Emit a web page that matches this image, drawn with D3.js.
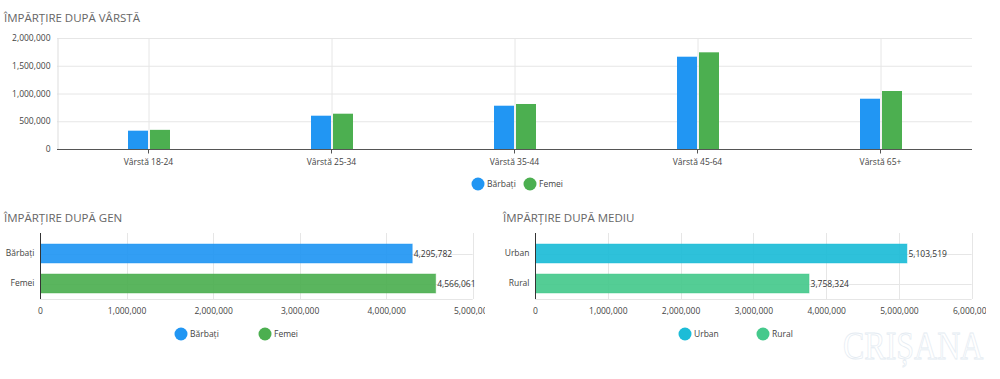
<!DOCTYPE html>
<html><head><meta charset="utf-8">
<script src="https://cdn.jsdelivr.net/npm/d3@7"></script>
<style>
html,body{margin:0;padding:0;background:#fff;}
svg{display:block;font-family:"Open Sans","DejaVu Sans",sans-serif;}
</style></head>
<body>
<svg id="chart" width="1000" height="379"></svg>
<script>
// ---- DATA ----
const ageCategories = ["Vârstă 18-24","Vârstă 25-34","Vârstă 35-44","Vârstă 45-64","Vârstă 65+"];
const ageMen   = [330000, 600000, 780000, 1663000, 906000];
const ageWomen = [345000, 636000, 811000, 1742000, 1045000];
const ageTicks = [0, 500000, 1000000, 1500000, 2000000];
const seriesNames = ["Bărbați","Femei"];

const genderCategories = ["Bărbați","Femei"];
const genderValues = [4295782, 4566061];
const genderTicks = [0,1000000,2000000,3000000,4000000,5000000];

const envCategories = ["Urban","Rural"];
const envValues = [5103519, 3758324];
const envTicks = [0,1000000,2000000,3000000,4000000,5000000,6000000];

const titles = ["ÎMPĂRȚIRE DUPĂ VÂRSTĂ","ÎMPĂRȚIRE DUPĂ GEN","ÎMPĂRȚIRE DUPĂ MEDIU"];

// ---- STYLE ----
const cBlue="#2196F3", cGreen="#4CAF50", cCyan="#1CBCD7", cMint="#45C98C";
const fmt = d3.format(",");
const svg = d3.select("#chart");
const textCol="#444", gridCol="#e6e6e6";

// ===== Top chart: age =====
{
  const x = d3.scaleBand().domain(ageCategories).range([57,972]);
  const y = d3.scaleLinear().domain([0,2000000]).range([149,38]);
  const g = svg.append("g");
  g.append("text").attr("x",4).attr("y",22).text(titles[0])
    .attr("font-size",11.5).attr("fill","#666");
  g.selectAll(".hg").data(ageTicks).join("line")
    .attr("x1",57).attr("x2",972).attr("y1",d=>y(d)+0.5).attr("y2",d=>y(d)+0.5)
    .attr("stroke",gridCol);
  g.selectAll(".vg").data(ageCategories).join("line")
    .attr("x1",d=>x(d)+x.bandwidth()/2+0.5).attr("x2",d=>x(d)+x.bandwidth()/2+0.5)
    .attr("y1",38).attr("y2",149).attr("stroke",gridCol);
  const ya = d3.axisLeft(y).tickValues(ageTicks).tickFormat(fmt).tickSize(0).tickPadding(7);
  const yg = g.append("g").attr("transform","translate(57.5,0)").call(ya);
  yg.select(".domain").attr("stroke","#ddd");
  yg.selectAll("text").attr("font-size",8.5).attr("fill",textCol).attr("font-family","Open Sans, DejaVu Sans, sans-serif");
  const bw = 20, gap = 2;
  g.selectAll(".bm").data(ageMen).join("rect")
    .attr("x",(d,i)=>x(ageCategories[i])+x.bandwidth()/2-bw-gap/2+0.5)
    .attr("y",d=>y(d)).attr("width",bw).attr("height",d=>y(0)-y(d)).attr("fill",cBlue);
  g.selectAll(".bw").data(ageWomen).join("rect")
    .attr("x",(d,i)=>x(ageCategories[i])+x.bandwidth()/2+gap/2+0.5)
    .attr("y",d=>y(d)).attr("width",bw).attr("height",d=>y(0)-y(d)).attr("fill",cGreen);
  const xa = d3.axisBottom(x).tickSize(4).tickPadding(5);
  const xg = g.append("g").attr("transform","translate(0,149.5)").call(xa);
  xg.select(".domain").attr("stroke","#555").attr("d","M57,0H972");
  xg.selectAll(".tick line").attr("stroke","#555");
  xg.selectAll("text").attr("font-size",8.5).attr("fill",textCol).attr("font-family","Open Sans, DejaVu Sans, sans-serif");
  const leg = g.append("g");
  const lx=[478,530];
  [cBlue,cGreen].forEach((c,i)=>{
    leg.append("circle").attr("cx",lx[i]).attr("cy",184).attr("r",6.5).attr("fill",c);
    leg.append("text").attr("x",lx[i]+9).attr("y",187).text(seriesNames[i])
      .attr("font-size",8.5).attr("fill",textCol);
  });
}

// ===== Horizontal bar charts =====
function hbar(opt){
  const g = svg.append("g");
  const clipId = "clip"+opt.id;
  svg.append("defs").append("clipPath").attr("id",clipId)
    .append("rect").attr("x",opt.x0-40).attr("y",200).attr("width",opt.clipR-(opt.x0-40)).attr("height",179);
  const inner = g.append("g").attr("clip-path",`url(#${clipId})`);
  g.append("text").attr("x",opt.tx).attr("y",222).text(opt.title)
    .attr("font-size",11.5).attr("fill","#666");
  const x = d3.scaleLinear().domain([0,opt.max]).range([opt.x0,opt.x1]);
  const y = d3.scaleBand().domain(opt.cats).range([238.5,298.5]).paddingInner(0.367).paddingOuter(0.1835);
  inner.selectAll(".vg").data(opt.ticks.slice(1)).join("line")
    .attr("x1",d=>Math.round(x(d))+0.5).attr("x2",d=>Math.round(x(d))+0.5)
    .attr("y1",233).attr("y2",299).attr("stroke",gridCol);
  const hl = opt.cats.map(c=>y(c)+y.bandwidth()/2).concat([298.5]);
  inner.selectAll(".hg").data(hl).join("line")
    .attr("x1",opt.x0).attr("x2",opt.x1).attr("y1",d=>Math.round(d)+0.5).attr("y2",d=>Math.round(d)+0.5)
    .attr("stroke",gridCol);
  inner.selectAll(".b").data(opt.values).join("rect")
    .attr("x",opt.x0+0.5).attr("y",(d,i)=>y(opt.cats[i]))
    .attr("width",d=>x(d)-opt.x0).attr("height",y.bandwidth())
    .attr("fill",(d,i)=>opt.colors[i]).attr("fill-opacity",0.92)
    .attr("stroke",(d,i)=>opt.colors[i]).attr("stroke-opacity",0.45).attr("stroke-width",1);
  inner.selectAll(".vl").data(opt.values).join("text")
    .attr("x",d=>x(d)+2).attr("y",(d,i)=>y(opt.cats[i])+y.bandwidth()/2+3)
    .text(d=>fmt(d)).attr("font-size",8.5).attr("fill","#333");
  const ya = d3.axisLeft(y).tickSize(0).tickPadding(6);
  const yg = g.append("g").attr("transform",`translate(${opt.x0+0.5},0)`).call(ya);
  yg.select(".domain").attr("stroke","#333").attr("d","M0,233V299");
  yg.selectAll("text").attr("font-size",8.5).attr("fill",textCol).attr("font-family","Open Sans, DejaVu Sans, sans-serif");
  const xa = d3.axisBottom(x).tickValues(opt.ticks).tickFormat(fmt).tickSize(0).tickPadding(9);
  const xg = inner.append("g").attr("transform","translate(0,299)").call(xa);
  xg.select(".domain").remove();
  xg.selectAll("text").attr("font-size",8.5).attr("fill",textCol).attr("font-family","Open Sans, DejaVu Sans, sans-serif");
  opt.legend.forEach((lx,i)=>{
    g.append("circle").attr("cx",lx).attr("cy",334).attr("r",6.5).attr("fill",opt.colors[i]);
    g.append("text").attr("x",lx+9).attr("y",337).text(opt.cats[i])
      .attr("font-size",8.5).attr("fill",textCol);
  });
}
hbar({id:1,title:titles[1],tx:4,x0:40,x1:472.7,max:5000000,cats:genderCategories,values:genderValues,
  ticks:genderTicks,colors:[cBlue,cGreen],legend:[181,265],clipR:485});
hbar({id:2,title:titles[2],tx:503,x0:535,x1:971.7,max:6000000,cats:envCategories,values:envValues,
  ticks:envTicks,colors:[cCyan,cMint],legend:[685,763],clipR:986});

// watermark
svg.append("text").attr("transform","translate(843,359) scale(0.78,1)").text("CRIȘANA")
  .attr("font-family","Liberation Serif, DejaVu Serif, serif").attr("font-size",41)
  .attr("fill","none").attr("stroke","#e4ebf2").attr("stroke-width",0.8);
</script>
</body></html>
